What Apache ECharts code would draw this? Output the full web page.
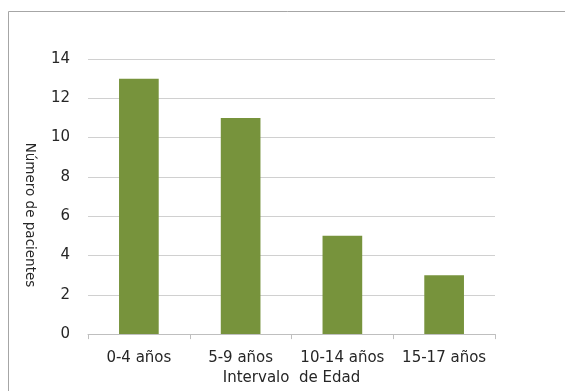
<!DOCTYPE html>
<html>
<head>
<meta charset="utf-8">
<script src="https://cdn.jsdelivr.net/npm/echarts@6/dist/echarts.min.js"></script>
<style>
  html, body { margin: 0; padding: 0; background: #fff; }
  #chart { width: 565px; height: 391px; }
</style>
</head>
<body>
<div id="chart"></div>
<script>
// Patients per age interval
const categories = ['0-4 años', '5-9 años', '10-14 años', '15-17 años'];
const patients = [13, 11, 5, 3];
const yTicks = { min: 0, max: 14, interval: 2 };

const chart = echarts.init(document.getElementById('chart'), null, { renderer: 'canvas' });
const font = 'DejaVu Sans, Verdana, sans-serif';

chart.setOption({
  animation: false,
  backgroundColor: '#ffffff',
  graphic: [
    {
      // outer frame of the chart area
      type: 'rect',
      shape: { x: 8.5, y: 11.5, width: 600, height: 420 },
      style: { fill: 'none', stroke: '#a6a6a6', lineWidth: 1 },
      silent: true,
      z: -1
    },
    {
      // vertical axis title, reading top to bottom
      type: 'text',
      x: 29,
      y: 215,
      rotation: -Math.PI / 2,
      style: {
        text: 'Número de pacientes',
        fill: '#262626',
        fontSize: 13.5,
        fontFamily: font,
        align: 'center',
        verticalAlign: 'middle'
      },
      silent: true
    }
  ],
  grid: { left: 88, right: 70, top: 59, bottom: 46, containLabel: false },
  xAxis: {
    type: 'category',
    data: categories,
    name: 'Intervalo  de Edad',
    nameLocation: 'middle',
    nameGap: 34,
    nameTextStyle: { color: '#262626', fontSize: 15, fontFamily: font },
    axisLine: { show: true, lineStyle: { color: '#bfbfbf', width: 1 } },
    axisTick: { show: true, interval: 0, alignWithLabel: false, length: 5, lineStyle: { color: '#bfbfbf' } },
    axisLabel: { color: '#262626', fontSize: 15, fontFamily: font, margin: 17, interval: 0, hideOverlap: false }
  },
  yAxis: {
    type: 'value',
    min: yTicks.min,
    max: yTicks.max,
    interval: yTicks.interval,
    axisLine: { show: false },
    axisTick: { show: false },
    axisLabel: { color: '#262626', fontSize: 15, fontFamily: font, margin: 18 },
    splitLine: { show: true, lineStyle: { color: '#d0d0d0', width: 1 } }
  },
  series: [{
    type: 'bar',
    data: patients,
    barWidth: '39%',
    itemStyle: { color: '#77933c' }
  }]
});
</script>
</body>
</html>
